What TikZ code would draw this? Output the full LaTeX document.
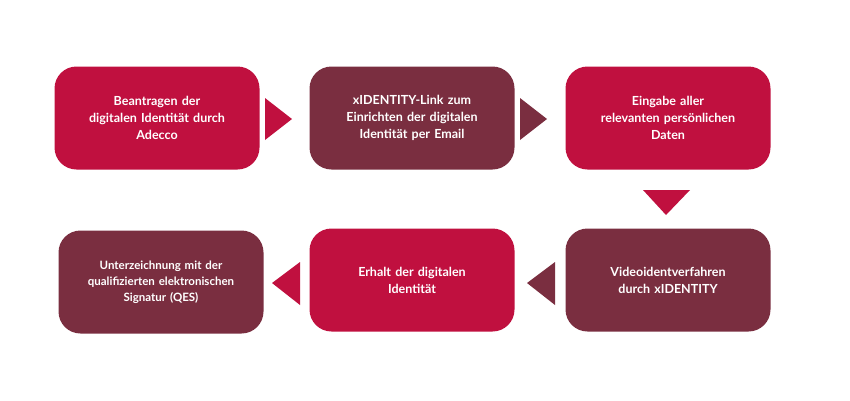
\documentclass[tikz,border=0pt]{standalone}
\usepackage{fontspec}
\setmainfont{Lato}
\usetikzlibrary{positioning}
\definecolor{crimson}{HTML}{C0103F}
\definecolor{maroon}{HTML}{7A2E40}
\tikzset{
  stepbox/.style={rounded corners=22pt, minimum width=205pt, minimum height=103pt,
    text=white, font=\bfseries\fontsize{12.5}{17}\selectfont, align=center, text width=195pt}
}
\begin{document}
\begin{tikzpicture}[x=1pt,y=-1pt]
  \useasboundingbox (0,0) rectangle (850,400);

  % boxes
  \node[stepbox, fill=crimson] (antrag) at (157,118) {Beantragen der\\digitalen Identität durch\\Adecco};
  \node[stepbox, fill=maroon] (link) at (412,118) {xIDENTITY-Link zum\\Einrichten der digitalen\\Identität per Email};
  \node[stepbox, fill=crimson] (eingabe) at (668,118) {Eingabe aller\\relevanten persönlichen\\Daten};
  \node[stepbox, fill=maroon] (video) at (668,280) {Videoidentverfahren\\durch xIDENTITY};
  \node[stepbox, fill=crimson] (erhalt) at (412,280) {Erhalt der digitalen\\Identität};
  \node[stepbox, fill=maroon, font=\bfseries\fontsize{11.5}{16}\selectfont] (qes) at (161,282) {Unterzeichnung mit der\\qualifizierten elektronischen\\Signatur (QES)};

  % triangles
  \fill[crimson] (265,98) -- (292,119) -- (265,140) -- cycle;
  \fill[maroon] (520,98) -- (547,119) -- (520,140) -- cycle;
  \fill[crimson] (643,190) -- (690,190) -- (666,215) -- cycle;
  \fill[maroon] (555,262) -- (527,283) -- (555,305) -- cycle;
  \fill[crimson] (300,262) -- (272,283) -- (300,305) -- cycle;

\end{tikzpicture}
\end{document}
